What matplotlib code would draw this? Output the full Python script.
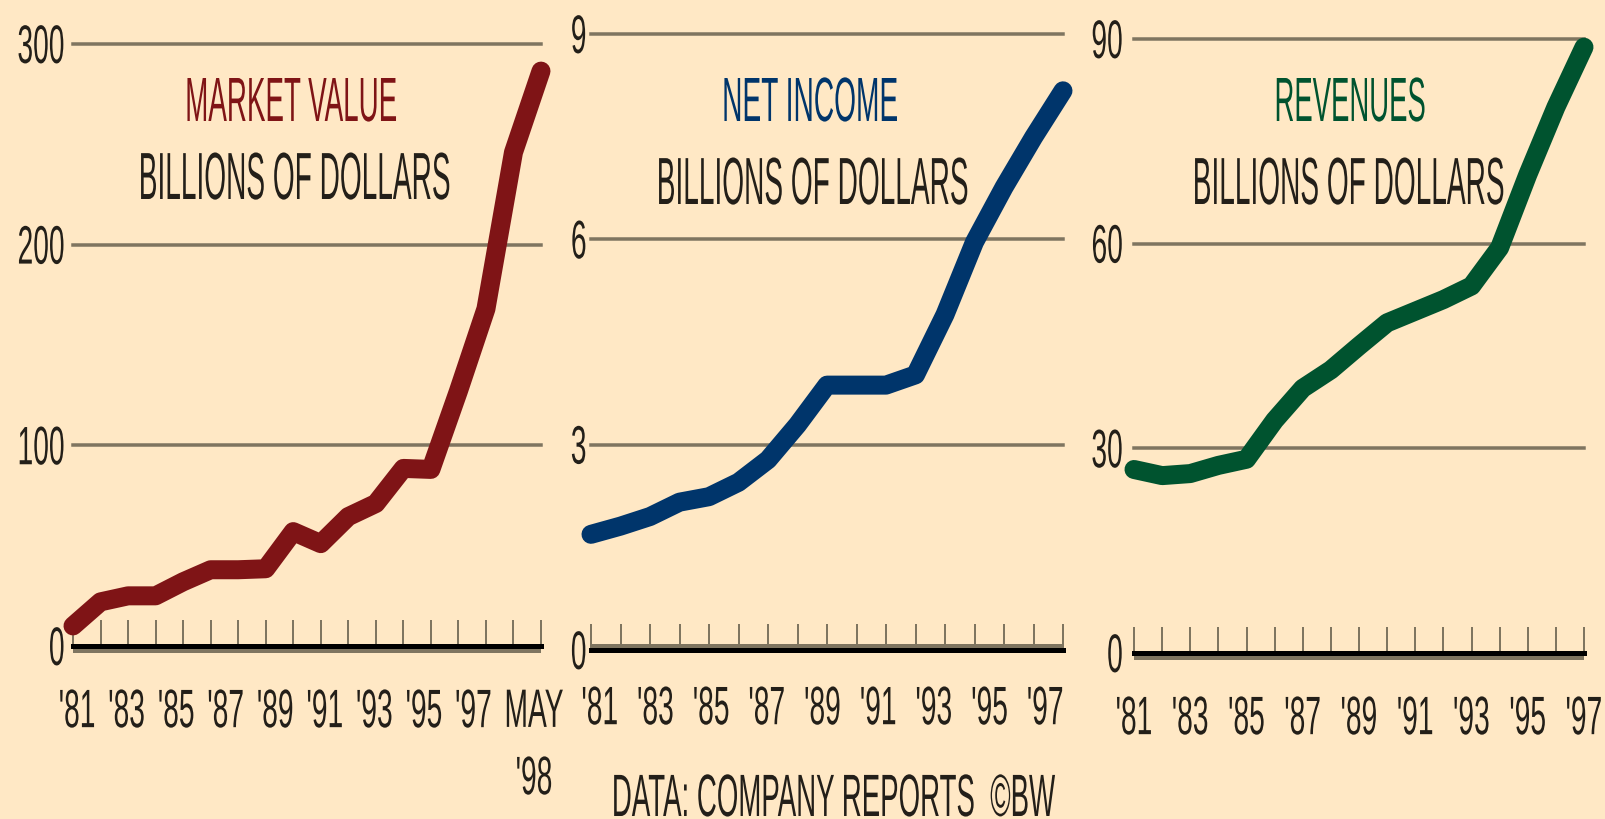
import numpy as np
import matplotlib
matplotlib.use("Agg")
import matplotlib.pyplot as plt
from matplotlib.patheffects import AbstractPathEffect
from matplotlib.transforms import Affine2D, ScaledTranslation

# ── DATA (billions of dollars) ───────────────────────────────────────────────
years    = np.arange(1981, 1998)          # '81 .. '97
mv_years = np.arange(1981, 1999)          # market value runs on to May '98

market_value = [10, 22, 25, 25, 32, 38, 38, 38.5, 57, 51,
                64.5, 71, 88.5, 88, 127, 168, 246, 286.5]
net_income   = [1.69, 1.81, 1.95, 2.16, 2.24, 2.45, 2.78, 3.29, 3.87,
                3.87, 3.87, 4.02, 4.9, 5.96, 6.76, 7.49, 8.17]
revenues     = [26.9, 26.0, 26.3, 27.5, 28.4, 34.1, 38.8, 41.5, 45.0,
                48.4, 50.1, 51.8, 53.8, 59.4, 70.1, 80.0, 88.8]

mv_yticks  = [0, 100, 200, 300]
ni_yticks  = [0, 3, 6, 9]
rev_yticks = [0, 30, 60, 90]

year_labels = ["'81", "'83", "'85", "'87", "'89", "'91", "'93", "'95", "'97"]
mv_xlabels  = year_labels + ["MAY\n'98"]

titles = ["MARKET VALUE", "NET INCOME", "REVENUES"]
units  = "BILLIONS OF DOLLARS"
source = "DATA: COMPANY REPORTS  ©BW"

# ── STYLE ────────────────────────────────────────────────────────────────────
W, H  = 1606, 820
PX    = 0.72                      # points per pixel at dpi=100
BG    = "#ffe8c5"
GRID  = "#7f7560"
INK   = "#231f19"
RED, BLUE, GREEN = "#7f1416", "#00356b", "#00532f"
NUM_SIZE, NUM_SY = 20.3, 1.92     # tall, narrow figures

plt.rcParams["font.family"] = ["Liberation Sans", "DejaVu Sans"]


class Stretch(AbstractPathEffect):
    """Draw glyph outlines stretched vertically (tall condensed lettering)."""

    def __init__(self, sy, anchor="baseline"):
        super().__init__()
        self.sy = sy
        self.anchor = anchor

    def draw_path(self, renderer, gc, tpath, affine, rgbFace=None):
        _, y0, _, y1 = tpath.get_extents().extents
        a = {"baseline": 0.0, "middle": 0.5 * (y0 + y1), "top": y1}[self.anchor]
        st = Affine2D().translate(0, -a).scale(1, self.sy).translate(0, a)
        renderer.draw_path(gc, tpath, st + affine, rgbFace)


fig = plt.figure(figsize=(W / 100, H / 100), dpi=100, facecolor=BG)


def panel(x0, x1, y_top, y_zero, xs, ys, color, yticks, label_pos, labels,
          ypad, xpad, band):
    ax = fig.add_axes([x0 / W, (H - y_zero) / H, (x1 - x0) / W, (y_zero - y_top) / H])
    ax.set_facecolor("none")
    for s in ax.spines.values():
        s.set_visible(False)
    ax.set_xlim(xs[0], xs[-1])
    ax.set_ylim(yticks[0], yticks[-1])
    ax.set_axisbelow(True)

    for v in yticks[1:]:
        ax.axhline(v, color=GRID, lw=3.5 * PX, zorder=1, clip_on=False)

    # baseline: black rule with a grey rule alongside
    shift = ScaledTranslation(0, band * 4.5 / 100, fig.dpi_scale_trans)
    ax.plot([0, 1], [0, 0], color=GRID, lw=4 * PX, solid_capstyle="butt",
            transform=ax.get_yaxis_transform() + shift, clip_on=False, zorder=2)
    ax.axhline(0, color="black", lw=5 * PX, zorder=2, clip_on=False)

    ax.plot(xs, ys, color=color, lw=19 * PX, solid_capstyle="round",
            solid_joinstyle="round", clip_on=False, zorder=3)

    # year ticks above the baseline, labels on their own minor locations
    ax.xaxis.remove_overlapping_locs = False
    ax.set_xticks(xs)
    ax.tick_params(axis="x", which="major", direction="in", length=26 * PX,
                   width=2 * PX, color=GRID, labelbottom=False)
    ax.set_xticks(label_pos, labels, minor=True)
    ax.tick_params(axis="x", which="minor", length=0, pad=xpad,
                   labelsize=NUM_SIZE, labelcolor=INK)
    ax.set_yticks(yticks, [str(v) for v in yticks])
    ax.tick_params(axis="y", length=0, pad=ypad, labelsize=NUM_SIZE, labelcolor=INK)
    for lab in ax.get_xticklabels(minor=True):
        lab.set_path_effects([Stretch(NUM_SY, "top")])
        lab.set_linespacing(3.05)
    for lab in ax.get_yticklabels():
        lab.set_path_effects([Stretch(NUM_SY, "middle")])
    return ax


mv_label_pos = list(np.linspace(1981.15, 1995.55, 9)) + [1997.75]
ni_label_pos = np.linspace(1981.3, 1996.4, 9)
rev_label_pos = years[::2]

panel(73, 541, 45, 647, mv_years, market_value, RED, mv_yticks,
      mv_label_pos, mv_xlabels, ypad=6, xpad=31, band=-1)
panel(591, 1063, 35, 651, years, net_income, BLUE, ni_yticks,
      ni_label_pos, year_labels, ypad=3.2, xpad=26, band=1)
panel(1134, 1584, 40, 654, years, revenues, GREEN, rev_yticks,
      rev_label_pos, year_labels, ypad=8, xpad=31, band=-1)

# panel headings
title_x    = [291, 810, 1350]
title_size = [20.0, 20.25, 19.8]
units_x    = [294, 812, 1348]
units_y    = [200, 205, 205]
for tx, ts, ux, uy, title, color in zip(title_x, title_size, units_x, units_y,
                                        titles, [RED, BLUE, GREEN]):
    fig.text(tx / W, (H - 122) / H, title, color=color, fontsize=ts,
             ha="center", va="baseline", path_effects=[Stretch(45 / ts)])
    fig.text(ux / W, (H - uy) / H, units, color=INK, fontsize=20.2,
             ha="center", va="baseline", path_effects=[Stretch(48 / 20.2)])

fig.text(833 / W, (H - 817) / H, source, color=INK, fontsize=19.9,
         ha="center", va="baseline", path_effects=[Stretch(43 / 19.9)])

fig.savefig("out.png", dpi=100, facecolor=BG)
